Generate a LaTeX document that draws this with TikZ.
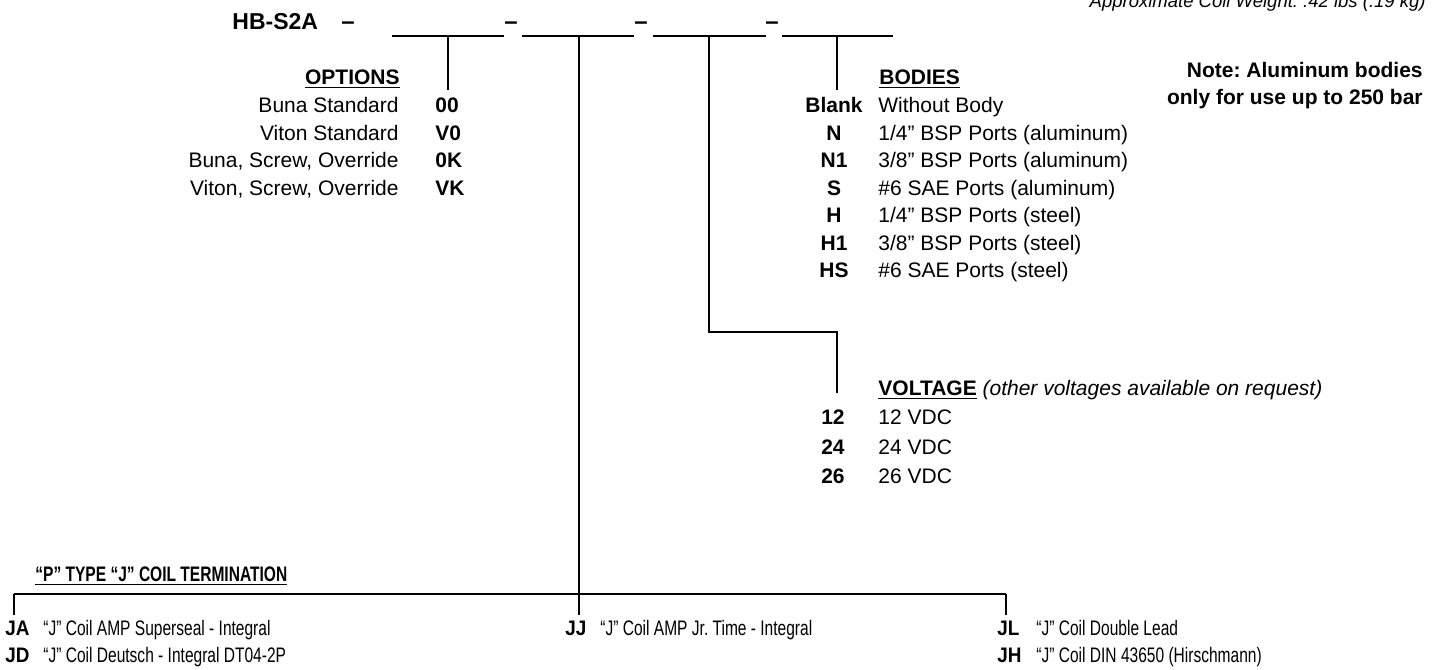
\documentclass[tikz,border=0pt]{standalone}
\usepackage{fontspec}
\setmainfont{Liberation Sans}
\newfontfamily\narrowfont[FakeStretch=0.74]{Liberation Sans}
\newfontfamily\narrowcode[FakeStretch=0.9]{Liberation Sans}
\usetikzlibrary{positioning}
\frenchspacing

\tikzset{
  code/.style={font=\fontsize{10.5}{12}\selectfont\bfseries, inner sep=0pt},
  desc/.style={font=\fontsize{10.5}{12}\selectfont, inner sep=0pt},
  ncode/.style={font=\narrowcode\fontsize{10.5}{12}\selectfont\bfseries, inner sep=0pt},
  ndesc/.style={font=\narrowfont\fontsize{10.5}{12}\selectfont, inner sep=0pt},
  leader/.style={line width=0.7pt}
}

\begin{document}
\begin{tikzpicture}[x=0.5pt, y=-0.5pt]
        \useasboundingbox (0,0) rectangle (1438,669);
        % Part number and slots
        \node[font=\fontsize{11.5}{13}\selectfont\bfseries, inner sep=0pt, anchor=base west] (part) at (232,29) {HB-S2A};
        \foreach \x [count=\i] in {348,511,641,772}
          \node[font=\fontsize{12}{13}\selectfont\bfseries, inner sep=0pt, anchor=base] (dash\i) at (\x,29) {--};
        \foreach \a/\b [count=\i] in {392/504,522/634,653/766,782/893} {
          \coordinate (sl\i) at (\a,36);
          \coordinate (sr\i) at (\b,36);
          \draw[leader] (sl\i) -- (sr\i);
        }
        \node[font=\fontsize{9.25}{11}\selectfont\itshape, inner sep=0pt, anchor=base east] (weight) at (1426,8)
          {Approximate Coil Weight: .42 lbs (.19 kg)};
        \node[code, anchor=base east] (note1) at (1423,77.5) {Note: Aluminum bodies};
        \node[code, anchor=base east] (note2) at (1423,104.5) {only for use up to 250 bar};
        % Options
        \node[code, anchor=base east] (opthead) at (400,84.5) {\underline{OPTIONS}};
        \foreach \c/\d [count=\i from 0] in {00/Buna Standard, V0/Viton Standard,
            0K/{Buna, Screw, Override}, VK/{Viton, Screw, Override}} {
          \node[code, anchor=base west] (optc\i) at (435,{112.5+27.5*\i}) {\c};
          \node[desc, anchor=base east] (optd\i) at (399,{112.5+27.5*\i}) {\d};
        }
        % Bodies
        \node[code, anchor=base west] (bodhead) at (879,84.5) {\underline{BODIES}};
        \foreach \c/\d [count=\i from 0] in {Blank/{Without Body}, N/{1/4” BSP Ports (aluminum)},
            N1/{3/8” BSP Ports (aluminum)}, S/{\#6 SAE Ports (aluminum)}, H/{1/4” BSP Ports (steel)},
            H1/{3/8” BSP Ports (steel)}, HS/{\#6 SAE Ports (steel)}} {
          \node[code, anchor=base] (bodc\i) at (834,{112.5+27.5*\i}) {\c};
          \node[desc, anchor=base west] (bodd\i) at (878,{112.5+27.5*\i}) {\d};
        }
        % Voltage
        \node[code, anchor=base west] (volhead) at (878,395)
          {\underline{VOLTAGE} \mdseries\itshape (other voltages available on request)};
        \foreach \c [count=\i from 0] in {12,24,26} {
          \node[code, anchor=base east] (volc\i) at (845,{424.5+29.5*\i}) {\c};
          \node[desc, anchor=base west] (vold\i) at (878,{424.5+29.5*\i}) {\c{} VDC};
        }
        % Coil termination
        \node[ncode, anchor=base west, font=\narrowfont\fontsize{10.5}{12}\selectfont\bfseries] (termhead) at (35,581)
          {\underline{“P” TYPE “J” COIL TERMINATION}};
        \node[ncode, anchor=base west] (ja) at (5,635) {JA};
        \node[ndesc, anchor=base west] (jad) at (43,635) {“J” Coil AMP Superseal - Integral};
        \node[ncode, anchor=base west] (jd) at (5,662) {JD};
        \node[ndesc, anchor=base west] (jdd) at (43,662) {“J” Coil Deutsch - Integral DT04-2P};
        \node[ncode, anchor=base west] (jj) at (565,635) {JJ};
        \node[ndesc, anchor=base west] (jjd) at (600,635) {“J” Coil AMP Jr. Time - Integral};
        \node[ncode, anchor=base west] (jl) at (997,635) {JL};
        \node[ndesc, anchor=base west] (jld) at (1036,635) {“J” Coil Double Lead};
        \node[ncode, anchor=base west] (jh) at (997,662) {JH};
        \node[ndesc, anchor=base west] (jhd) at (1036,662) {“J” Coil DIN 43650 (Hirschmann)};
        % Leaders
        \coordinate (t1) at (448,36);
        \coordinate (t2) at (579,36);
        \coordinate (t3) at (709,36);
        \coordinate (t4) at (837,36);
        \coordinate (optend) at (448,90);
        \coordinate (bodend) at (837,90);
        \coordinate (bend) at (709,332);
        \coordinate (volend) at (837,393);
        \coordinate (busl) at (14,594);
        \coordinate (busm) at (579,594);
        \coordinate (busr) at (1006,594);
        \draw[leader] (t1) -- (optend);
        \draw[leader] (t4) -- (bodend);
        \draw[leader] (t3) -- (bend) -| (volend);
        \draw[leader] (t2) -- (busm);
        \draw[leader] (busl) -- (busr);
        \draw[leader] (busl) -- ++(0,21);
        \draw[leader] (busm) -- ++(0,21);
        \draw[leader] (busr) -- ++(0,21);
      \end{tikzpicture}
\end{document}
